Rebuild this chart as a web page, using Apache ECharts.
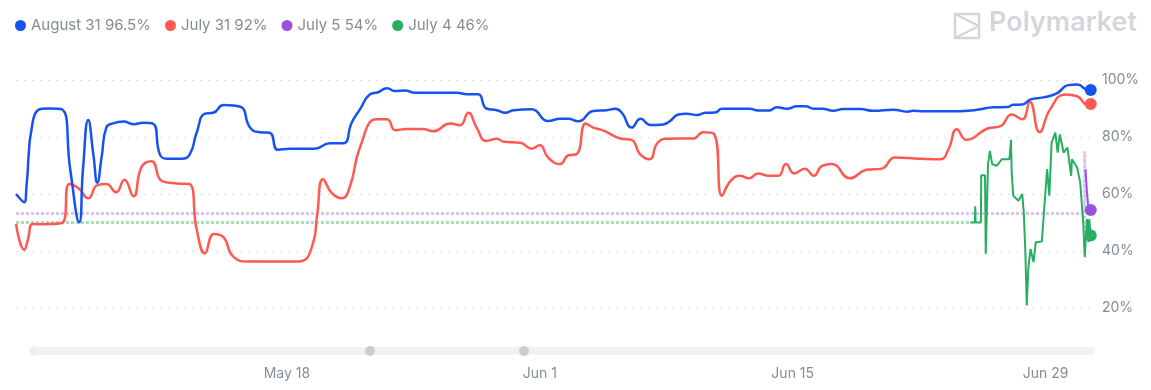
<!DOCTYPE html>
<html>
<head>
<meta charset="utf-8">
<script src="https://cdn.jsdelivr.net/npm/echarts@6/dist/echarts.min.js"></script>
<style>
html,body{margin:0;padding:0;background:#fff;}
#c{width:1151px;height:390px;}
</style>
</head>
<body>
<div id="c"></div>
<script>
// ---- data ----
const outcomeNames = ['August 31', 'July 31', 'July 5', 'July 4'];
const outcomeLabels = ['96.5%', '92%', '54%', '46%'];
const outcomeColors = ['#1652F0', '#FF5952', '#9B51E0', '#27AE60'];
const fadedColors = ['#d8c3f3', '#a9dcbe'];
const xTickDates = ['05-18 00:00', '06-01 00:00', '06-15 00:00', '06-29 00:00'];
const yTicks = [0, 20, 40, 60, 80, 100];
const xRange = ['05-03 00:00', '07-01 15:00'];

const aug31 = [
 ['05-03 00:00',60.0],['05-03 11:00',57.1],['05-03 14:00',62.9],['05-03 22:00',85.0],['05-04 10:00',89.9],
 ['05-04 21:00',90.0],['05-05 13:00',89.7],['05-06 00:00',68.7],['05-06 12:00',50.1],['05-06 17:00',68.7],
 ['05-07 00:00',86.0],['05-07 07:00',73.4],['05-07 12:00',64.0],['05-07 18:00',73.4],['05-08 00:00',83.3],
 ['05-08 09:00',84.8],['05-08 23:00',85.4],['05-09 12:00',84.5],['05-10 01:00',85.0],['05-10 14:00',84.7],
 ['05-10 23:00',74.0],['05-11 08:00',72.4],['05-12 04:00',72.4],['05-12 15:00',74.0],['05-13 00:00',81.5],
 ['05-13 11:00',88.2],['05-13 22:00',88.5],['05-14 12:00',91.2],['05-15 10:00',90.6],['05-15 23:00',83.3],
 ['05-16 12:00',81.7],['05-17 01:00',81.5],['05-17 12:00',75.5],['05-18 04:00',75.9],['05-19 13:00',75.9],
 ['05-20 09:00',77.8],['05-21 03:00',77.8],['05-21 14:00',85.0],['05-22 01:00',89.7],['05-22 14:00',94.9],
 ['05-23 01:00',95.7],['05-23 13:00',97.1],['05-24 00:00',96.1],['05-24 13:00',96.3],['05-25 02:00',95.5],
 ['05-27 10:00',95.5],['05-27 23:00',95.0],['05-28 14:00',95.0],['05-29 01:00',90.0],['05-29 15:00',89.4],
 ['05-30 02:00',88.5],['05-30 13:00',89.4],['05-31 13:00',89.7],['06-01 11:00',85.6],['06-02 03:00',86.4],
 ['06-02 14:00',86.4],['06-03 03:00',85.5],['06-03 23:00',89.1],['06-04 17:00',89.4],['06-05 04:00',89.9],
 ['06-05 13:00',88.5],['06-06 02:00',83.3],['06-06 14:00',86.4],['06-07 03:00',84.2],['06-07 20:00',84.4],
 ['06-08 05:00',85.6],['06-08 16:00',87.9],['06-09 03:00',88.2],['06-09 17:00',87.7],['06-10 04:00',88.5],
 ['06-10 17:00',88.6],['06-11 02:00',89.9],['06-12 15:00',89.9],['06-13 02:00',89.3],['06-13 16:00',89.3],
 ['06-14 03:00',90.4],['06-14 16:00',89.9],['06-15 06:00',90.8],['06-15 17:00',90.8],['06-16 04:00',89.9],
 ['06-16 15:00',89.9],['06-17 06:00',89.2],['06-17 19:00',89.8],['06-18 18:00',89.8],['06-19 11:00',89.2],
 ['06-20 14:00',89.6],['06-21 08:00',88.9],['06-21 16:00',89.2],['06-22 06:00',89.0],['06-24 06:00',89.0],
 ['06-25 05:00',89.6],['06-26 03:00',90.4],['06-26 21:00',90.5],['06-27 05:00',91.3],['06-27 17:00',91.4],
 ['06-28 04:00',93.2],['06-28 21:00',93.9],['06-29 15:00',95.3],['06-30 06:00',98.2],['06-30 18:00',98.4],
 ['07-01 09:00',96.4],['07-01 12:00',96.5]
];

const jul31 = [
 ['05-03 00:00',49.5],['05-03 11:00',40.4],['05-03 16:00',44.2],['05-03 22:00',49.5],['05-04 08:00',49.4],
 ['05-05 13:00',49.8],['05-05 23:00',63.5],['05-06 11:00',62.0],['05-07 00:00',58.5],['05-07 12:00',63.1],
 ['05-08 00:00',63.5],['05-08 13:00',60.6],['05-09 00:00',65.0],['05-09 12:00',59.2],['05-09 23:00',69.6],
 ['05-10 12:00',71.5],['05-11 02:00',64.5],['05-11 22:00',63.7],['05-12 14:00',63.5],['05-13 00:00',47.7],
 ['05-13 11:00',39.2],['05-13 23:00',46.0],['05-14 12:00',44.8],['05-15 00:00',38.2],['05-15 21:00',36.3],
 ['05-18 15:00',36.3],['05-19 11:00',43.1],['05-19 16:00',52.4],['05-20 00:00',65.2],['05-20 12:00',60.2],
 ['05-21 01:00',58.5],['05-21 12:00',62.9],['05-22 01:00',76.3],['05-22 23:00',86.2],['05-23 13:00',86.2],
 ['05-24 00:00',82.4],['05-24 15:00',82.8],['05-25 13:00',82.8],['05-26 02:00',82.0],['05-27 01:00',84.7],
 ['05-27 14:00',84.1],['05-28 01:00',88.5],['05-28 12:00',83.3],['05-29 01:00',78.6],['05-29 15:00',79.4],
 ['05-30 00:00',78.3],['05-30 22:00',78.0],['05-31 13:00',75.9],['06-01 00:00',77.1],['06-01 11:00',72.8],
 ['06-02 03:00',70.5],['06-02 14:00',73.6],['06-03 01:00',74.0],['06-03 13:00',84.7],['06-03 23:00',83.3],
 ['06-04 12:00',82.3],['06-05 11:00',79.5],['06-06 02:00',79.0],['06-06 13:00',74.0],['06-07 02:00',72.2],
 ['06-07 12:00',77.8],['06-08 01:00',79.4],['06-09 12:00',79.5],['06-10 01:00',81.7],['06-10 15:00',81.2],
 ['06-11 02:00',59.4],['06-11 13:00',64.4],['06-12 02:00',66.4],['06-12 14:00',65.5],['06-13 02:00',67.2],
 ['06-13 16:00',66.4],['06-14 05:00',66.4],['06-14 15:00',70.5],['06-15 02:00',67.2],['06-15 16:00',68.9],
 ['06-16 04:00',66.4],['06-16 15:00',69.9],['06-17 04:00',70.5],['06-18 04:00',65.5],['06-19 02:00',68.5],
 ['06-19 22:00',68.9],['06-20 16:00',72.8],['06-22 01:00',72.4],['06-23 04:00',72.2],['06-23 15:00',75.7],
 ['06-24 02:00',82.7],['06-24 15:00',79.0],['06-25 18:00',82.9],['06-26 12:00',83.8],['06-27 03:00',87.9],
 ['06-27 17:00',86.2],['06-28 03:00',92.4],['06-28 16:00',81.7],['06-29 06:00',89.7],['06-30 02:00',94.9],
 ['06-30 18:00',94.3],['07-01 07:00',91.4],['07-01 12:00',91.6]
];

const jul5Placeholder = [
 ['05-03 00:00',53.2],['07-01 04:00',53.2],['07-01 04:00',75.0],['07-01 04:10',45.0]
];
const jul5 = [
 ['07-01 05:00',68.7],['07-01 07:00',60.6],['07-01 09:00',54.7],['07-01 12:00',54.4]
];

const jul4Placeholder = [
 ['05-03 00:00',50.0],['06-24 20:00',50.0]
];
const jul4 = [
 ['06-24 20:00',50.0],['06-25 02:00',50.0],['06-25 02:30',55.7],['06-25 03:00',50.0],['06-25 10:00',50.0],
 ['06-25 10:30',66.6],['06-25 15:30',66.6],['06-25 16:30',39.0],['06-25 19:00',39.0],['06-25 19:30',70.5],
 ['06-25 22:00',75.1],['06-26 01:00',70.5],['06-26 07:00',69.9],['06-26 14:00',72.2],['06-27 00:00',72.2],
 ['06-27 02:00',79.0],['06-27 03:00',67.5],['06-27 05:00',59.4],['06-27 12:00',57.6],['06-27 17:00',60.0],
 ['06-27 19:00',53.6],['06-27 21:00',40.7],['06-27 23:00',20.9],['06-28 01:00',33.7],['06-28 04:00',40.7],
 ['06-28 08:00',36.1],['06-28 11:00',43.1],['06-28 19:00',43.3],['06-29 02:00',68.7],['06-29 05:00',59.4],
 ['06-29 08:00',78.0],['06-29 13:00',81.5],['06-29 16:00',74.5],['06-29 19:00',80.9],['06-30 00:00',74.5],
 ['06-30 05:00',76.3],['06-30 10:00',66.4],['06-30 11:00',72.2],['06-30 18:00',69.3],['06-30 22:00',64.0],
 ['07-01 02:00',50.1],['07-01 04:00',37.8],['07-01 07:00',51.2],['07-01 09:00',43.1],['07-01 10:00',51.2],
 ['07-01 12:00',45.4]
];

// ---- helpers ----
const YEAR = 2024;
const MONTHS = ['Jan','Feb','Mar','Apr','May','Jun','Jul','Aug','Sep','Oct','Nov','Dec'];
function t(s){
  const m = +s.slice(0,2), d = +s.slice(3,5), hh = +s.slice(6,8), mm = +s.slice(9,11);
  return Date.UTC(YEAR, m-1, d, hh, mm);
}
function conv(arr){ return arr.map(p => [t(p[0]), p[1]]); }

const TEXT = '#858D92';
const FONT = 'Inter, "Open Sans", sans-serif';

const solidSets = [aug31, jul31, jul5, jul4];
const series = [];

series.push({
  name: outcomeNames[2], type: 'line', data: conv(jul5Placeholder), symbol: 'none',
  lineStyle: {color: fadedColors[0], width: 3, type: [3, 2]}, z: 1, silent: true
});
series.push({
  name: outcomeNames[3], type: 'line', data: conv(jul4Placeholder), symbol: 'none',
  lineStyle: {color: fadedColors[1], width: 3, type: [3, 2]}, z: 1, silent: true
});

[3, 2, 1, 0].forEach(i => {
  const smooth = i <= 1;
  series.push({
    name: outcomeNames[i], type: 'line', data: conv(solidSets[i]), symbol: 'none',
    smooth: smooth ? 0.5 : false,
    lineStyle: {color: outcomeColors[i], width: i <= 1 ? 2.5 : 2},
    itemStyle: {color: outcomeColors[i]},
    z: 2 + (3 - i)
  });
});
[3, 2, 1, 0].forEach(i => {
  const last = solidSets[i][solidSets[i].length - 1];
  series.push({
    name: outcomeNames[i], type: 'scatter', data: [[t(last[0]), last[1]]],
    symbol: 'circle', symbolSize: 12, itemStyle: {color: outcomeColors[i], opacity: 1}, z: 10
  });
});

const chart = echarts.init(document.getElementById('c'), null, {renderer: 'canvas'});
chart.setOption({
  animation: false,
  backgroundColor: '#ffffff',
  legend: {
    left: 15, top: 18, padding: 0, icon: 'circle', itemWidth: 11, itemHeight: 11, itemGap: 14,
    data: outcomeNames.map((n, i) => ({name: n, itemStyle: {color: outcomeColors[i]}})),
    formatter: n => n + ' ' + outcomeLabels[outcomeNames.indexOf(n)],
    textStyle: {color: TEXT, fontSize: 15, fontFamily: FONT},
    selectedMode: false
  },
  grid: {left: 16, right: 58, top: 80, bottom: 25, containLabel: false},
  xAxis: {
    type: 'value', min: t(xRange[0]), max: t(xRange[1]),
    axisLine: {show: false}, axisTick: {show: false}, splitLine: {show: false},
    axisLabel: {
      customValues: xTickDates.map(t), margin: 2,
      color: TEXT, fontSize: 14, fontFamily: FONT,
      formatter: v => { const d = new Date(v); return MONTHS[d.getUTCMonth()] + ' ' + d.getUTCDate(); }
    }
  },
  yAxis: {
    type: 'value', position: 'right', min: yTicks[0], max: yTicks[yTicks.length - 1], interval: 20,
    axisLine: {show: false}, axisTick: {show: false},
    axisLabel: {color: TEXT, fontSize: 14, fontFamily: FONT, margin: 9,
      formatter: v => v === 0 ? '' : v + '%'},
    splitLine: {show: true, lineStyle: {color: ['rgba(0,0,0,0)', '#dcdfe3', '#dcdfe3', '#dcdfe3', '#dcdfe3', '#dcdfe3'], type: [2, 6], width: 1}}
  },
  graphic: [
    {type: 'rect', left: 34, top: 347, shape: {width: 1061, height: 8, r: 4}, style: {fill: '#f1f2f4'}, silent: true},
    {type: 'circle', shape: {cx: 34, cy: 351, r: 5}, style: {fill: '#eceef1'}, silent: true},
    {type: 'circle', shape: {cx: 370, cy: 351, r: 5}, style: {fill: '#c9cdd3'}, silent: true},
    {type: 'circle', shape: {cx: 524, cy: 351, r: 5}, style: {fill: '#c9cdd3'}, silent: true},
    {type: 'polyline', shape: {points: [[955,14],[979,14],[979,38],[955,38],[955,14],[979,26],[955,38]]},
      style: {stroke: '#d3d6db', lineWidth: 2.5, fill: null, lineJoin: 'round'}, silent: true},
    {type: 'text', left: 989, top: 9, style: {text: 'Polymarket', fill: '#d3d6db', font: '600 27px Inter, "Open Sans", sans-serif'}, silent: true}
  ],
  series: series
});
</script>
</body>
</html>
